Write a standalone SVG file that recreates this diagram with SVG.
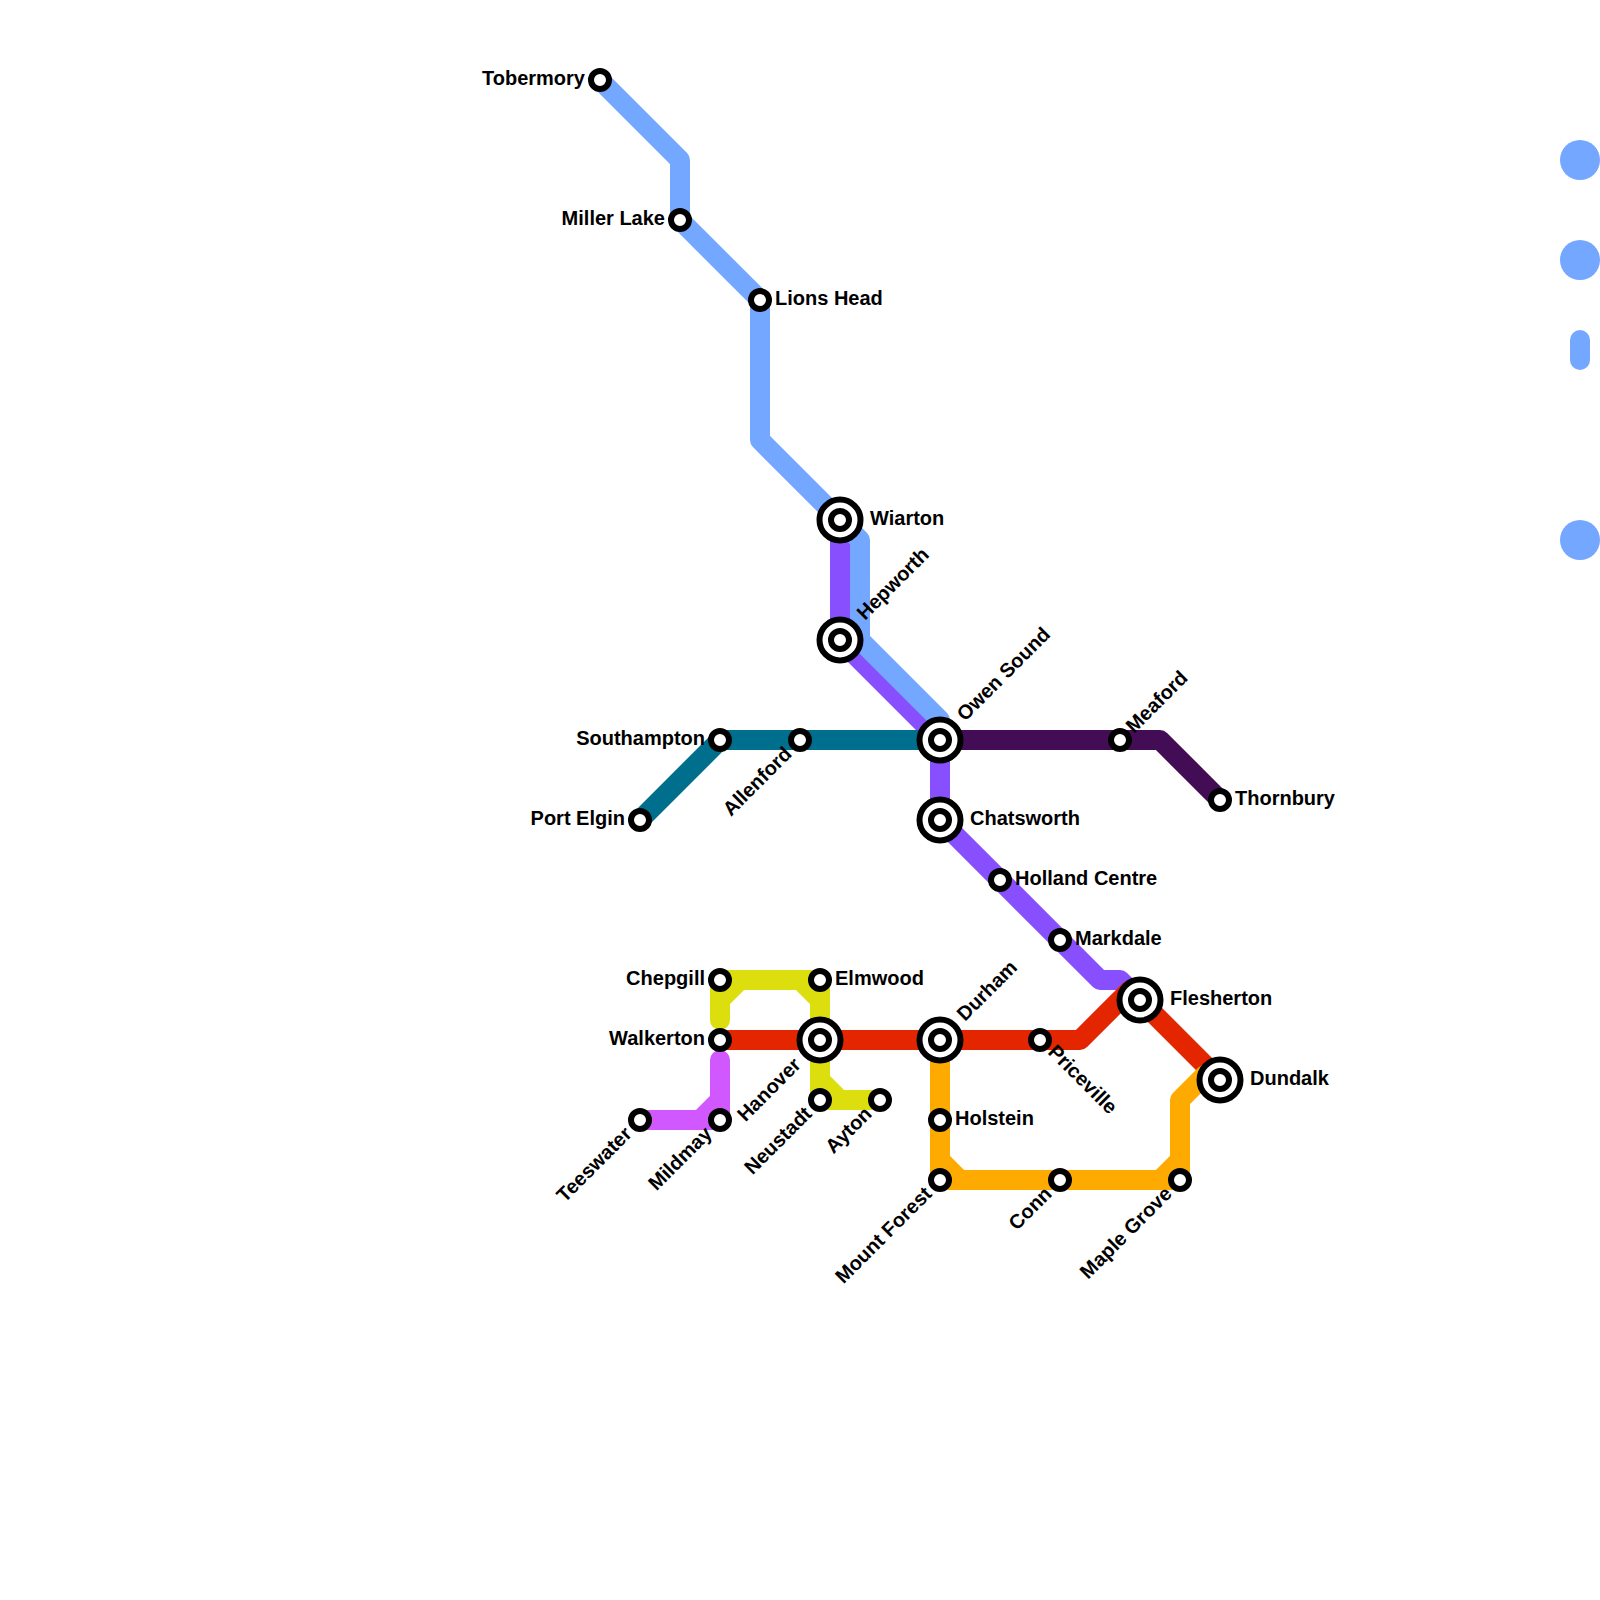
<svg xmlns="http://www.w3.org/2000/svg" width="1600" height="1600" viewBox="0 0 1600 1600">
<style>
.l{fill:none;stroke-width:20;stroke-linecap:round;stroke-linejoin:round}
.s{fill:#fff;stroke:#000;stroke-width:6}
.t{font-family:"Liberation Sans",Arial,sans-serif;font-weight:700;font-size:20px;fill:#000}
.e{text-anchor:end}
.b{stroke:#74A7FF}.p{stroke:#884FFF}.c{stroke:#006F8E}.d{stroke:#420D54}.r{stroke:#E42600}.o{stroke:#FFAA00}.y{stroke:#DCDE0E}.m{stroke:#D157FF}
.lg{fill:#74A7FF}
</style>
<defs>
<g id="st"><circle class="s" r="9"/></g>
<g id="ic"><circle class="s" r="20.5"/><circle class="s" r="9"/></g>
</defs>
<g id="connectors">
<path class="l p" d="M840 520V640L940 740V820L1100 980H1120L1140 1000"/>
<path class="l b" d="M600 80L680 160V220L760 300V440L860 540V640L940 720V740"/>
<path class="l c" d="M640 820L720 740H940"/>
<path class="l d" d="M940 740H1160L1220 800"/>
<path class="l r" d="M720 1040H1080L1130 990L1140 1000L1220 1080"/>
<path class="l o" d="M940 1040V1160L960 1180H1160L1180 1160V1100L1205 1075"/>
<path class="l o" d="M940 1160V1180H960M1160 1180H1180V1160"/>
<path class="l y" d="M720 1020V1000L740 980H800L820 1000V1080L840 1100H880"/>
<path class="l y" d="M720 1000V980H740M800 980H820V1000M820 1080V1100H840"/>
<path class="l m" d="M640 1120H700L720 1100V1060"/>
<path class="l m" d="M700 1120H720V1100"/>
</g>
<g id="legend">
<circle class="lg" cx="1580" cy="160" r="20"/>
<circle class="lg" cx="1580" cy="260" r="20"/>
<rect class="lg" x="1570" y="330" width="20" height="40" rx="10"/>
<circle class="lg" cx="1580" cy="540" r="20"/>
</g>
<g id="tobermory"><use href="#st" x="600" y="80"/><text class="t e" x="585" y="85">Tobermory</text></g>
<g id="miller-lake"><use href="#st" x="680" y="220"/><text class="t e" x="665" y="225">Miller Lake</text></g>
<g id="lions-head"><use href="#st" x="760" y="300"/><text class="t" x="775" y="305">Lions Head</text></g>
<g id="wiarton"><use href="#ic" x="840" y="520"/><text class="t" x="870" y="525">Wiarton</text></g>
<g id="hepworth"><use href="#ic" x="840" y="640"/><text class="t" transform="translate(865 621) rotate(-45)">Hepworth</text></g>
<g id="owen-sound"><use href="#ic" x="940" y="740"/><text class="t" transform="translate(965 722) rotate(-45)">Owen Sound</text></g>
<g id="chatsworth"><use href="#ic" x="940" y="820"/><text class="t" x="970" y="825">Chatsworth</text></g>
<g id="holland-centre"><use href="#st" x="1000" y="880"/><text class="t" x="1015" y="885">Holland Centre</text></g>
<g id="markdale"><use href="#st" x="1060" y="940"/><text class="t" x="1075" y="945">Markdale</text></g>
<g id="flesherton"><use href="#ic" x="1140" y="1000"/><text class="t" x="1170" y="1005">Flesherton</text></g>
<g id="dundalk"><use href="#ic" x="1220" y="1080"/><text class="t" x="1250" y="1085">Dundalk</text></g>
<g id="meaford"><use href="#st" x="1120" y="740"/><text class="t" transform="translate(1134 734) rotate(-45)">Meaford</text></g>
<g id="thornbury"><use href="#st" x="1220" y="800"/><text class="t" x="1235" y="805">Thornbury</text></g>
<g id="southampton"><use href="#st" x="720" y="740"/><text class="t e" x="705" y="745">Southampton</text></g>
<g id="allenford"><use href="#st" x="800" y="740"/><text class="t e" transform="translate(793 755) rotate(-45)">Allenford</text></g>
<g id="port-elgin"><use href="#st" x="640" y="820"/><text class="t e" x="625" y="825">Port Elgin</text></g>
<g id="chepgill"><use href="#st" x="720" y="980"/><text class="t e" x="705" y="985">Chepgill</text></g>
<g id="elmwood"><use href="#st" x="820" y="980"/><text class="t" x="835" y="985">Elmwood</text></g>
<g id="walkerton"><use href="#st" x="720" y="1040"/><text class="t e" x="705" y="1045">Walkerton</text></g>
<g id="hanover"><use href="#ic" x="820" y="1040"/><text class="t e" transform="translate(802 1066) rotate(-45)">Hanover</text></g>
<g id="durham"><use href="#ic" x="940" y="1040"/><text class="t" transform="translate(965 1022) rotate(-45)">Durham</text></g>
<g id="priceville"><use href="#st" x="1040" y="1040"/><text class="t" transform="translate(1047 1053) rotate(45)">Priceville</text></g>
<g id="neustadt"><use href="#st" x="820" y="1100"/><text class="t e" transform="translate(813 1115) rotate(-45)">Neustadt</text></g>
<g id="ayton"><use href="#st" x="880" y="1100"/><text class="t e" transform="translate(873 1115) rotate(-45)">Ayton</text></g>
<g id="holstein"><use href="#st" x="940" y="1120"/><text class="t" x="955" y="1125">Holstein</text></g>
<g id="mount-forest"><use href="#st" x="940" y="1180"/><text class="t e" transform="translate(933 1195) rotate(-45)">Mount Forest</text></g>
<g id="conn"><use href="#st" x="1060" y="1180"/><text class="t e" transform="translate(1053 1195) rotate(-45)">Conn</text></g>
<g id="maple-grove"><use href="#st" x="1180" y="1180"/><text class="t e" transform="translate(1173 1195) rotate(-45)">Maple Grove</text></g>
<g id="teeswater"><use href="#st" x="640" y="1120"/><text class="t e" transform="translate(633 1135) rotate(-45)">Teeswater</text></g>
<g id="mildmay"><use href="#st" x="720" y="1120"/><text class="t e" transform="translate(713 1135) rotate(-45)">Mildmay</text></g>
</svg>
